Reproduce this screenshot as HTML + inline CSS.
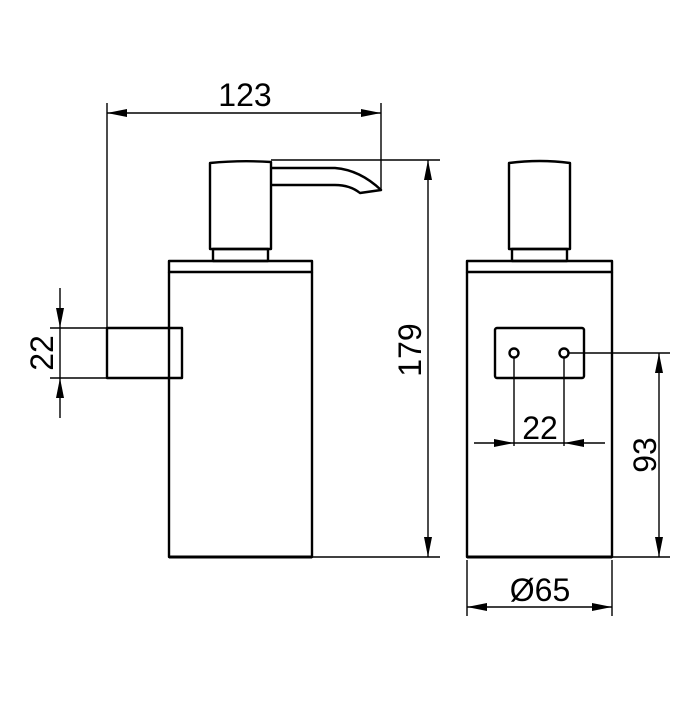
<!DOCTYPE html>
<html><head><style>body{margin:0;background:#fff}</style></head><body>
<svg width="700" height="700" viewBox="0 0 700 700" xmlns="http://www.w3.org/2000/svg">
<defs>
<marker id="a" viewBox="0 0 20 8" refX="20" refY="4" markerWidth="20" markerHeight="8" markerUnits="userSpaceOnUse" orient="auto"><path d="M0,0 L20,4 L0,8 Z" fill="#000"/></marker>
</defs>
<g fill="none" stroke="#000" stroke-width="2.4" stroke-linejoin="round">
<path d="M210,163 Q240,160 271,162 L271,249 L210,249 Z"/>
<rect x="213" y="249" width="55" height="12"/>
<rect x="169" y="261" width="143" height="11"/>
<path d="M169,272 L169,557 L312,557 L312,272"/>
<line x1="169" y1="557" x2="312" y2="557" stroke-width="3"/>
<path d="M271,168 L335,168 Q360,170 381,190 L360,193 Q350,185 335,185 L271,185"/>
<rect x="107" y="328" width="75" height="50"/>
<path d="M509,163 Q540,159 570,163 L570,249 L509,249 Z"/>
<rect x="512" y="249" width="55" height="12"/>
<rect x="467" y="261" width="145" height="11"/>
<path d="M467,272 L467,557 L612,557 L612,272"/>
<line x1="467" y1="557" x2="612" y2="557" stroke-width="3"/>
<rect x="495" y="328" width="89" height="50" rx="2"/>
<circle cx="514" cy="353" r="4.5"/>
<circle cx="564" cy="353" r="4.5"/>
</g>
<g fill="none" stroke="#000" stroke-width="1.4">
<line x1="107" y1="103" x2="107" y2="328"/>
<line x1="381" y1="103" x2="381" y2="190"/>
<line x1="271" y1="160" x2="440" y2="160"/>
<line x1="312" y1="557" x2="440" y2="557"/>
<line x1="245" y1="113" x2="107" y2="113" marker-end="url(#a)"/>
<line x1="245" y1="113" x2="381" y2="113" marker-end="url(#a)"/>
<line x1="428" y1="350" x2="428" y2="160" marker-end="url(#a)"/>
<line x1="428" y1="350" x2="428" y2="557" marker-end="url(#a)"/>
<line x1="50" y1="328" x2="107" y2="328"/>
<line x1="50" y1="378" x2="107" y2="378"/>
<line x1="60" y1="288" x2="60" y2="328" marker-end="url(#a)"/>
<line x1="60" y1="418" x2="60" y2="378" marker-end="url(#a)"/>
<line x1="60" y1="328" x2="60" y2="378"/>
<line x1="568" y1="353" x2="670" y2="353"/>
<line x1="612" y1="557" x2="670" y2="557"/>
<line x1="659" y1="455" x2="659" y2="353" marker-end="url(#a)"/>
<line x1="659" y1="455" x2="659" y2="557" marker-end="url(#a)"/>
<line x1="514" y1="358" x2="514" y2="446"/>
<line x1="564" y1="358" x2="564" y2="446"/>
<line x1="474" y1="443" x2="514" y2="443" marker-end="url(#a)"/>
<line x1="605" y1="443" x2="564" y2="443" marker-end="url(#a)"/>
<line x1="514" y1="443" x2="564" y2="443"/>
<line x1="467" y1="560" x2="467" y2="616"/>
<line x1="612" y1="560" x2="612" y2="616"/>
<line x1="540" y1="607" x2="467" y2="607" marker-end="url(#a)"/>
<line x1="540" y1="607" x2="612" y2="607" marker-end="url(#a)"/>
</g>
<g font-family="Liberation Sans, sans-serif" font-size="32" fill="#000" text-anchor="middle">
<text x="245" y="106">123</text>
<text transform="translate(421,350) rotate(-90)">179</text>
<text transform="translate(53,353) rotate(-90)">22</text>
<text x="540" y="439">22</text>
<text transform="translate(656,455) rotate(-90)">93</text>
<text x="540" y="601">Ø65</text>
</g>
</svg>
</body></html>
